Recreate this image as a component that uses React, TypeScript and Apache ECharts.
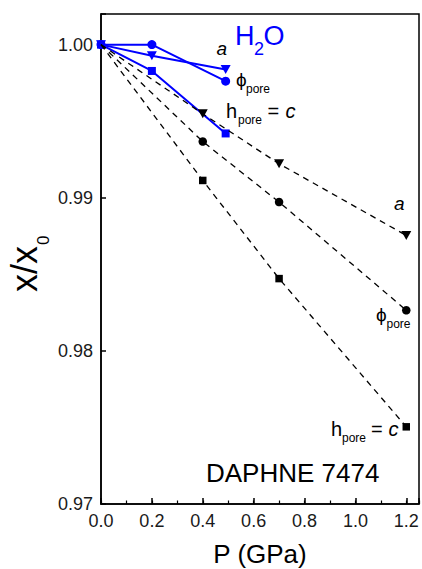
import React, { useEffect, useRef } from "react";
import * as echarts from "echarts";

// ---- data ----
const pressureH2O = [0, 0.2, 0.49];
const h2oA = [1.0, 0.99928, 0.99837];
const h2oPhi = [1.0, 1.0, 0.99761];
const h2oH = [1.0, 0.99828, 0.9942];

const pressureDaphne = [0, 0.4, 0.7, 1.2];
const daphneA = [1.0, 0.99548, 0.99222, 0.98754];
const daphnePhi = [1.0, 0.99367, 0.98972, 0.98265];
const daphneH = [1.0, 0.99113, 0.98472, 0.97504];

const xTickLabels = ["0.0", "0.2", "0.4", "0.6", "0.8", "1.0", "1.2"];
const yTickLabels = ["0.97", "0.98", "0.99", "1.00"];

const BLUE = "#0000ff";
const FONT = '"Liberation Sans", Arial, Helvetica, sans-serif';

const zip = (xs: number[], ys: number[]) => xs.map((x, i) => [x, ys[i]]);

function T(x: number, base: number, text: string, size: number, opts: any = {}) {
  const font = `${opts.italic ? "italic " : ""}${size}px ${FONT}`;
  return {
    type: "text",
    x,
    y: base - 0.35 * size,
    silent: true,
    style: {
      text,
      fill: opts.fill || "#000",
      font,
      textAlign: opts.align || "left",
      align: opts.align || "left",
      textVerticalAlign: "middle",
      verticalAlign: "middle",
    },
  };
}

export default function App() {
  const ref = useRef<HTMLDivElement>(null);
  useEffect(() => {
    if (!ref.current) return;
    const chart = echarts.init(ref.current, null, { renderer: "svg" });

    const blueSeries = (ys: number[], symbol: string, size: any, rotate = 0) => ({
      type: "line",
      data: zip(pressureH2O, ys),
      symbol,
      symbolSize: size,
      symbolRotate: rotate,
      clip: false,
      z: 2,
      lineStyle: { color: BLUE, width: 2 },
      itemStyle: { color: BLUE },
    });
    const blackSeries = (ys: number[], symbol: string, size: any, rotate = 0) => ({
      type: "line",
      data: pressureDaphne.map((x, i) =>
        i === 0 ? { value: [x, ys[i]], symbol: "none" } : [x, ys[i]]
      ),
      symbol,
      symbolSize: size,
      symbolRotate: rotate,
      clip: false,
      z: 3,
      lineStyle: { color: "#000", width: 1.3, type: [6, 5] },
      itemStyle: { color: "#000" },
    });

    chart.setOption({
      animation: false,
      grid: {
        left: 101,
        right: 2.5,
        top: 14,
        bottom: 65,
        show: true,
        borderColor: "#000",
        borderWidth: 1.5,
      },
      xAxis: [
        {
          type: "value",
          min: 0,
          max: 1.25,
          interval: 0.2,
          position: "bottom",
          axisLine: { show: true, onZero: false, lineStyle: { color: "#000", width: 1.5 } },
          axisTick: { show: true, inside: true, length: 6, lineStyle: { color: "#000", width: 1.5 } },
          axisLabel: {
            margin: 8,
            fontSize: 18,
            fontFamily: FONT,
            color: "#1a1a1a",
            formatter: (v: number) => {
              const s = v.toFixed(1);
              return xTickLabels.includes(s) && Math.abs(v - parseFloat(s)) < 1e-6 ? s : "";
            },
          },
          splitLine: { show: false },
        },
        {
          type: "value",
          min: 0,
          max: 1.25,
          interval: 0.1,
          position: "bottom",
          axisLine: { show: false, onZero: false },
          axisTick: { show: true, inside: true, length: 3.5, lineStyle: { color: "#000", width: 1.2 } },
          axisLabel: { show: false },
          splitLine: { show: false },
        },
      ],
      yAxis: {
        type: "value",
        min: 0.97,
        max: 1.002,
        interval: 0.01,
        axisLine: { show: true, onZero: false, lineStyle: { color: "#000", width: 1.5 } },
        axisTick: { show: true, inside: true, length: 5, lineStyle: { color: "#000", width: 1.5 } },
        axisLabel: {
          margin: 8,
          fontSize: 18,
          fontFamily: FONT,
          color: "#1a1a1a",
          formatter: (v: number) => {
            const s = v.toFixed(2);
            return yTickLabels.includes(s) && Math.abs(v - parseFloat(s)) < 1e-6 ? s : "";
          },
        },
        splitLine: { show: false },
      },
      series: [
        blueSeries(h2oA, "triangle", [10, 9], 180),
        blueSeries(h2oPhi, "circle", 9),
        blueSeries(h2oH, "rect", 8),
        blackSeries(daphneA, "triangle", [10, 9], 180),
        blackSeries(daphnePhi, "circle", 8.5),
        blackSeries(daphneH, "rect", 7.5),
      ],
      graphic: [
        // H2O
        T(235, 45, "H", 27, { fill: BLUE }),
        T(254, 55, "2", 18, { fill: BLUE }),
        T(263.5, 45, "O", 27, { fill: BLUE }),
        // top-left annotations
        T(216.5, 55, "a", 19, { italic: true }),
        T(236, 86, "ϕ", 19),
        T(246, 93, "pore", 12),
        T(226, 118, "h", 20),
        T(238, 124, "pore", 12),
        T(267.5, 118, "=", 20),
        T(285.5, 118, "c", 20, { italic: true }),
        // right annotations
        T(394, 210, "a", 19, { italic: true }),
        T(376, 321, "ϕ", 19),
        T(386.5, 328, "pore", 12),
        T(331, 436, "h", 20),
        T(342, 442, "pore", 12),
        T(371, 436, "=", 20),
        T(388.5, 436, "c", 20, { italic: true }),
        // sample name
        T(206, 482, "DAPHNE 7474", 26),
        // x axis title
        T(260, 563, "P (GPa)", 26, { align: "center" }),
        // y axis title
        {
          type: "group",
          x: 37,
          y: 292,
          rotation: Math.PI / 2,
          children: [T(0, 0, "x/x", 36), T(47, 12, "0", 17)],
        },
      ],
    });
    return () => chart.dispose();
  }, []);

  return (
    <div
      ref={ref}
      style={{ position: "fixed", left: 0, top: 0, width: 422, height: 569, background: "#fff" }}
    />
  );
}
